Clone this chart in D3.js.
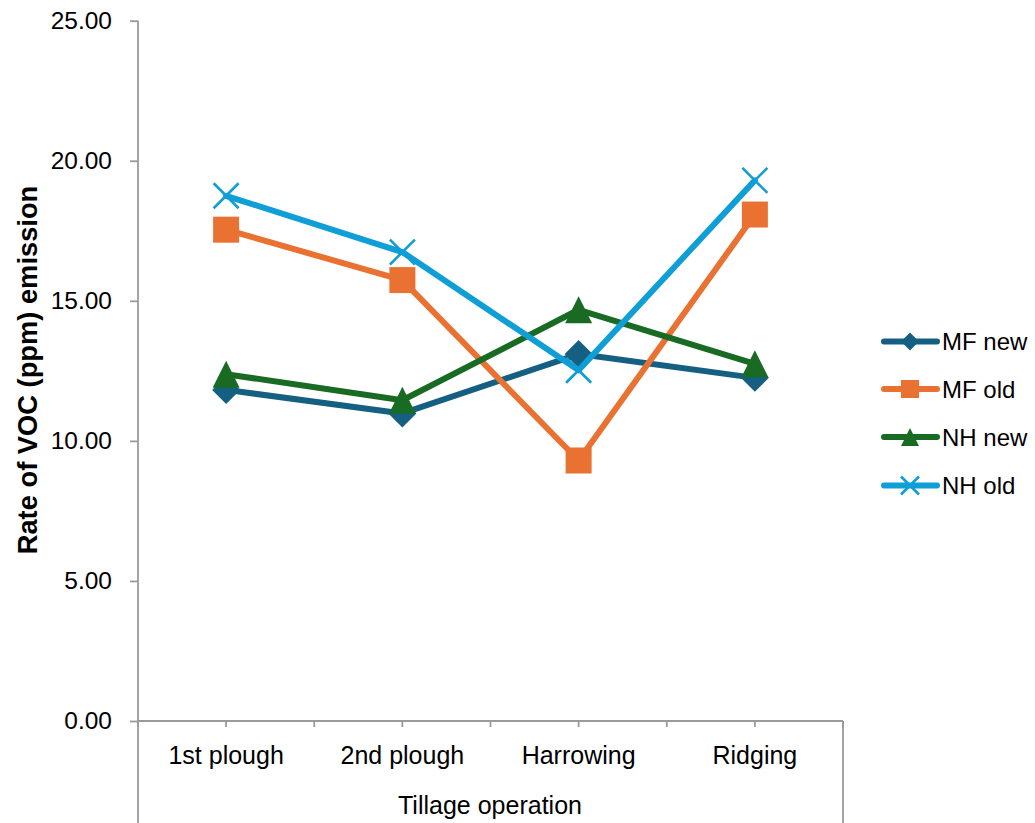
<!DOCTYPE html>
<html><head><meta charset="utf-8">
<script src="https://cdn.jsdelivr.net/npm/d3@7"></script>
<style>body{margin:0;background:#fff}svg{display:block;font-family:"Liberation Sans",Arial,sans-serif}</style>
</head><body><svg id="c" width="1035" height="823"></svg>
<script>
const categories = ["1st plough","2nd plough","Harrowing","Ridging"];
const seriesNames = ["MF new","MF old","NH new","NH old"];
const mfNew = [11.82, 10.98, 13.1, 12.25];
const mfOld = [17.54, 15.74, 9.3, 18.08];
const nhNew = [12.38, 11.45, 14.68, 12.75];
const nhOld = [18.75, 16.74, 12.52, 19.3];
const yTicks = [0,5,10,15,20,25];
const colors = ["#156082","#E97132","#196B24","#0F9ED5"];
const markers = ["diamond","square","triangle","x"];
const seriesValues = [mfNew, mfOld, nhNew, nhOld];

const svg = d3.select("#c");
const x = d3.scaleBand().domain(categories).range([138,843]);
const y = d3.scaleLinear().domain([0,25]).range([721,20.7]);
const axisColor = "#9a9a9a";

// y axis
const yAxis = svg.append("g").attr("transform","translate(138,0)")
  .call(d3.axisLeft(y).tickValues(yTicks).tickFormat(d3.format(".2f")).tickSize(8).tickPadding(18));
yAxis.select(".domain").remove();
yAxis.selectAll(".tick line").attr("stroke",axisColor).attr("stroke-width",1.8);
yAxis.selectAll(".tick text").attr("font-size",24.5).attr("fill","#000").attr("font-family","Liberation Sans, Arial, sans-serif");
svg.append("line").attr("x1",138).attr("x2",138).attr("y1",y(25)).attr("y2",823).attr("stroke",axisColor).attr("stroke-width",1.8);

// x axis
svg.append("line").attr("x1",138).attr("x2",843).attr("y1",y(0)).attr("y2",y(0)).attr("stroke",axisColor).attr("stroke-width",1.8);
svg.append("line").attr("x1",843).attr("x2",843).attr("y1",y(0)).attr("y2",823).attr("stroke",axisColor).attr("stroke-width",1.8);
const half = x.bandwidth()/2;
const tickPos = d3.range(0, categories.length*2+1).map(k => 138 + k*half);
svg.append("g").selectAll("line").data(tickPos).join("line")
  .attr("x1",d=>d).attr("x2",d=>d).attr("y1",y(0)).attr("y2",y(0)+6)
  .attr("stroke",axisColor).attr("stroke-width",1.8);
svg.append("g").selectAll("text").data(categories).join("text")
  .attr("x",d=>x(d)+half).attr("y",764).attr("text-anchor","middle")
  .attr("font-size",25).text(d=>d);
svg.append("text").attr("x",490).attr("y",814).attr("text-anchor","middle").attr("font-size",25).text("Tillage operation");
svg.append("text").attr("transform","translate(37,370) rotate(-90)").attr("text-anchor","middle")
  .attr("font-size",27.3).attr("font-weight","bold").text("Rate of VOC (ppm) emission");

function drawMarker(g, type, color, s){
  if(type==="diamond"){
    g.append("path").attr("d",`M0,${-s/2}L${s/2},0L0,${s/2}L${-s/2},0Z`).attr("fill",color);
  } else if(type==="square"){
    g.append("rect").attr("x",-s/2).attr("y",-s/2).attr("width",s).attr("height",s).attr("fill",color);
  } else if(type==="triangle"){
    g.append("path").attr("d",`M0,${-s/2}L${s/2},${s/2}L${-s/2},${s/2}Z`).attr("fill",color);
  } else {
    const h = s/2;
    g.append("path").attr("d",`M${-h},${-h}L${h},${h}M${-h},${h}L${h},${-h}`).attr("stroke",color).attr("stroke-width",2.6).attr("fill","none");
  }
}

const line = d3.line().x((d,i)=>x(categories[i])+half).y(d=>y(d));
const msize = [28,26,27,25];
seriesValues.forEach((vals,si)=>{
  const g = svg.append("g");
  g.append("path").datum(vals).attr("d",line).attr("fill","none").attr("stroke",colors[si])
    .attr("stroke-width",6).attr("stroke-linejoin","round").attr("stroke-linecap","round");
  vals.forEach((v,i)=>{
    const mg = g.append("g").attr("transform",`translate(${x(categories[i])+half},${y(v)})`);
    drawMarker(mg, markers[si], colors[si], msize[si]);
  });
});

// legend
const legY = [341.5, 389, 437, 485.5];
seriesNames.forEach((n,si)=>{
  const g = svg.append("g").attr("transform",`translate(0,${legY[si]})`);
  g.append("line").attr("x1",884).attr("x2",937).attr("y1",0).attr("y2",0).attr("stroke",colors[si]).attr("stroke-width",6).attr("stroke-linecap","round");
  const mg = g.append("g").attr("transform","translate(910,0)");
  drawMarker(mg, markers[si], colors[si], 18);
  g.append("text").attr("x",942).attr("y",8.5).attr("font-size",24).text(n);
});
</script></body></html>
